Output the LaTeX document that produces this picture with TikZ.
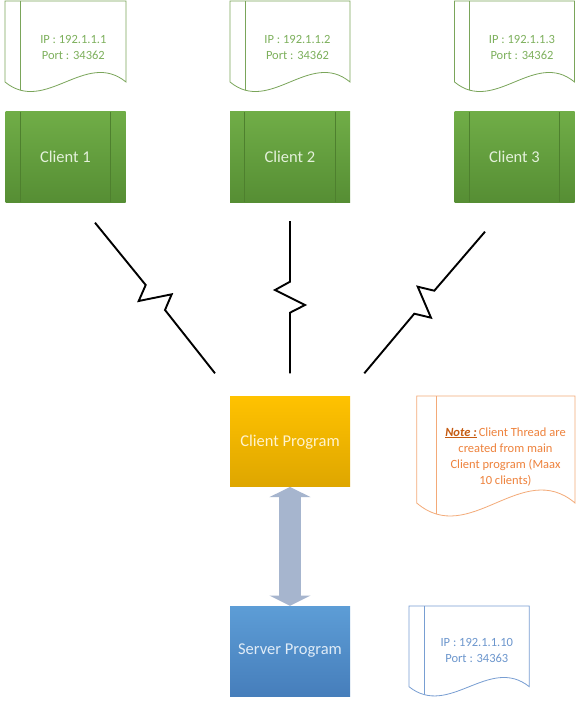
\documentclass[tikz,border=0pt]{standalone}
\usepackage{fontspec}
\setmainfont{Carlito}
\usetikzlibrary{calc}
\definecolor{docgreen}{RGB}{122,165,90}
\definecolor{docgreentext}{RGB}{125,176,92}
\definecolor{cltop}{RGB}{112,173,71}
\definecolor{clbot}{RGB}{86,142,52}
\definecolor{clline}{RGB}{78,128,46}
\definecolor{cltext}{RGB}{228,241,219}
\definecolor{cptop}{RGB}{255,194,0}
\definecolor{cpbot}{RGB}{222,166,0}
\definecolor{cptext}{RGB}{255,243,206}
\definecolor{sptop}{RGB}{93,157,214}
\definecolor{spbot}{RGB}{70,126,187}
\definecolor{sptext}{RGB}{224,236,247}
\definecolor{arrowfill}{RGB}{166,181,206}
\definecolor{noteline}{RGB}{243,170,120}
\definecolor{notetext}{RGB}{238,130,60}
\definecolor{notebold}{RGB}{197,90,17}
\definecolor{sdline}{RGB}{120,158,210}
\definecolor{sdtext}{RGB}{108,150,205}
\newcommand\docshape[7]{%
  \pgfmathsetmacro\dR{#1+#3}\pgfmathsetmacro\dB{#2+#4}%
  \pgfmathsetmacro\cA{#1+2*#3/3}\pgfmathsetmacro\cB{#1+#3/3}%
  \pgfmathsetmacro\yA{#2+#4-#5}\pgfmathsetmacro\yB{#2+#4+#5}%
  \pgfmathsetmacro\xI{#1+#7}%
  \fill[white] (#1,#2) -- (\dR,#2) -- (\dR,\dB) .. controls (\cA,\yA) and (\cB,\yB) .. (#1,\dB) -- cycle;
  \begin{scope}
    \clip (#1,#2) -- (\dR,#2) -- (\dR,\dB) .. controls (\cA,\yA) and (\cB,\yB) .. (#1,\dB) -- cycle;
    \draw[#6, line width=0.8pt] (\xI,#2) -- (\xI,\yB);
  \end{scope}
  \draw[#6, line width=0.8pt, line join=miter] (#1,#2) -- (\dR,#2) -- (\dR,\dB) .. controls (\cA,\yA) and (\cB,\yB) .. (#1,\dB) -- cycle;
}
\begin{document}
\begin{tikzpicture}[x=1pt,y=-1pt,
  small/.style={font=\fontsize{12.5}{16}\selectfont, align=center, inner sep=0pt},
  big/.style={font=\fontsize{16.5}{20}\selectfont, align=center},
  clientbox/.style={minimum width=120pt, minimum height=90pt, inner sep=0pt,
     top color=cltop, bottom color=clbot, text=cltext, big},
  cpbox/.style={minimum width=120pt, minimum height=90pt, inner sep=0pt,
     top color=cptop, bottom color=cpbot, text=cptext, big},
  spbox/.style={minimum width=120pt, minimum height=90pt, inner sep=0pt,
     top color=sptop, bottom color=spbot, text=sptext, big},
  bolt/.style={draw=black, line width=1.9pt, line join=miter},
  innerline/.style={draw=clline, line width=0.7pt}
]
\fill[white] (0,0) rectangle (581,706);
\useasboundingbox (0,0) rectangle (581,706);

% documents at top
\docshape{5}{1}{121}{81}{33}{docgreen}{15.5}
\docshape{230}{1}{120}{81}{33}{docgreen}{15}
\docshape{454.5}{1}{120}{81}{33}{docgreen}{15}
\node[small, text=docgreentext] (ip1) at (73.3,47) {IP : 192.1.1.1\\Port : 34362};
\node[small, text=docgreentext] (ip2) at (297.5,47) {IP : 192.1.1.2\\Port : 34362};
\node[small, text=docgreentext] (ip3) at (522,47) {IP : 192.1.1.3\\Port : 34362};

% client boxes
\node[clientbox] (c1) at (65.5,157) {Client 1};
\node[clientbox] (c2) at (290,157) {Client 2};
\node[clientbox] (c3) at (514.5,157) {Client 3};
\foreach \c in {c1,c2,c3}{
  \draw[innerline] ($(\c.north west)+(15,0)$) -- ($(\c.south west)+(15,0)$);
  \draw[innerline] ($(\c.north east)+(-15,0)$) -- ($(\c.south east)+(-15,0)$);
}

% lightning connectors
\coordinate (l1s) at (95,222.7);
\coordinate (l1e) at (215,373.3);
\coordinate (l2s) at (290,221);
\coordinate (l2e) at (290,373.3);
\coordinate (l3s) at (485,231.7);
\coordinate (l3e) at (364.3,373.3);
\draw[bolt] (l1s) -- (145.7,285) -- (138.7,301) -- (171.7,294.3) -- (165,310) -- (l1e);
\draw[bolt] (l2s) -- (290,281.7) -- (275,290) -- (305,305) -- (290,312.7) -- (l2e);
\draw[bolt] (l3s) -- (434.3,290.7) -- (417.7,286.7) -- (431,317.7) -- (414.3,313.7) -- (l3e);

% programs
\node[cpbox] (cp) at (290,441.7) {Client Program};
\node[spbox] (sp) at (290,651) {Server Program};

% double arrow
\fill[arrowfill] (cp.south) -- ($(cp.south)+(20.7,10.3)$) -- ($(cp.south)+(10.8,10.3)$)
  -- ($(sp.north)+(10.8,-10.3)$) -- ($(sp.north)+(20.7,-10.3)$) -- (sp.north)
  -- ($(sp.north)+(-20.7,-10.3)$) -- ($(sp.north)+(-10.8,-10.3)$)
  -- ($(cp.south)+(-10.8,10.3)$) -- ($(cp.south)+(-20.7,10.3)$) -- cycle;

% note document
\docshape{416.7}{396}{158.3}{107}{45}{noteline}{19.3}
\node[small, text=notetext] (note) at (505.5,456.7) {{\color{notebold}\textbf{\textit{\underline{Note :}}}}\,Client Thread are\\created from main\\Client program (Maax\\10 clients)};

% server document
\docshape{409}{606}{120.3}{80.7}{32}{sdline}{15.3}
\node[small, text=sdtext] (ips) at (476.8,650.8) {IP : 192.1.1.10\\Port : 34363};
\end{tikzpicture}
\end{document}
